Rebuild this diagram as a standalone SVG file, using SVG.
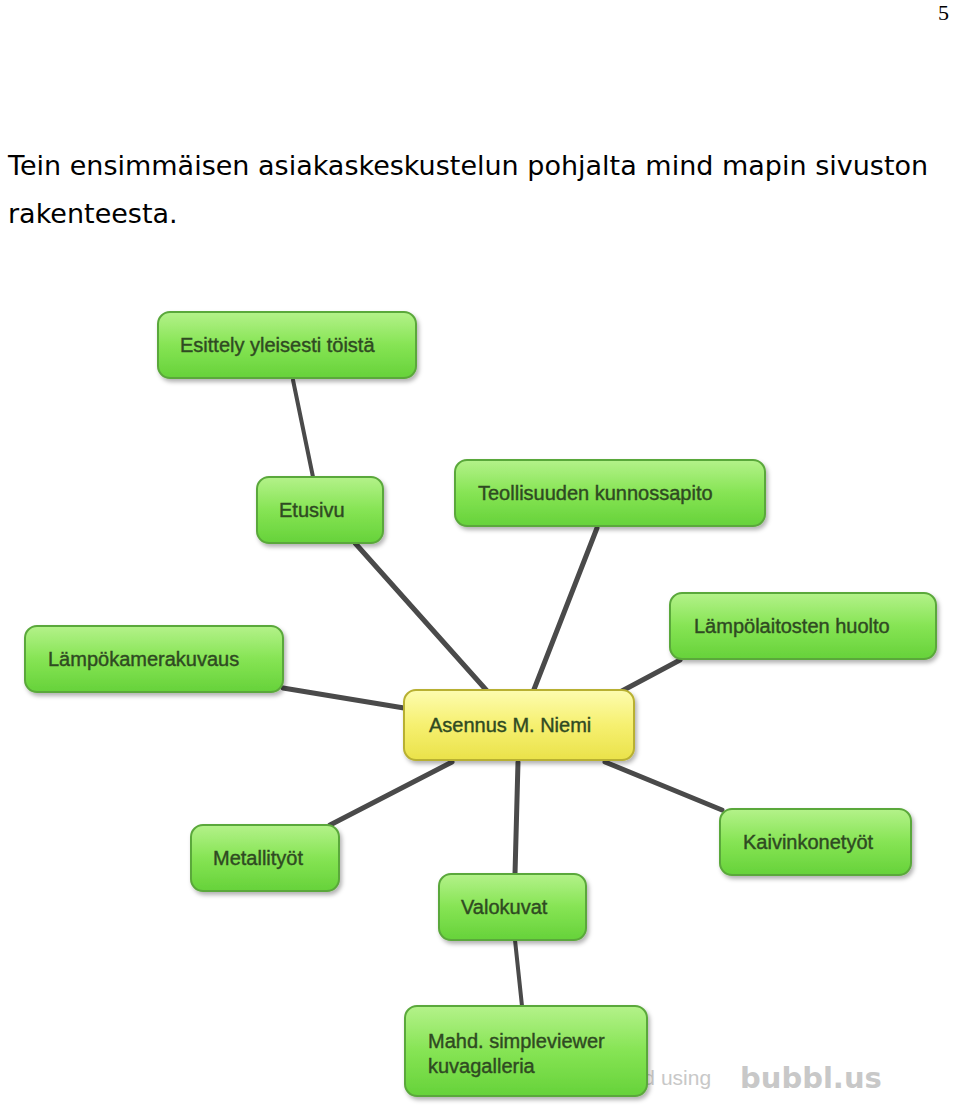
<svg xmlns="http://www.w3.org/2000/svg" width="960" height="1114" viewBox="0 0 960 1114">
<defs>
<linearGradient id="g" x1="0" y1="0" x2="0" y2="1"><stop offset="0" stop-color="#b4f28a"/><stop offset="0.5" stop-color="#86e454"/><stop offset="1" stop-color="#66d23a"/></linearGradient>
<linearGradient id="y" x1="0" y1="0" x2="0" y2="1"><stop offset="0" stop-color="#fdfcb0"/><stop offset="0.5" stop-color="#f6f070"/><stop offset="1" stop-color="#eae24a"/></linearGradient>
<filter id="sh" x="-10%" y="-10%" width="125%" height="130%"><feDropShadow dx="2" dy="3" stdDeviation="2" flood-color="#000" flood-opacity="0.3"/></filter>
</defs>
<style>
.n{fill:url(#g);stroke:#5aa83a;stroke-width:2;filter:url(#sh)}
.c{fill:url(#y);stroke:#b8b030;stroke-width:2;filter:url(#sh)}
.t{font-family:"Liberation Sans",Arial,sans-serif;font-size:20px;fill:#2f4a22;stroke:#2f4a22;stroke-width:0.4}
.h{font-family:"DejaVu Sans",Verdana,sans-serif;font-size:27px;fill:#000}
.e{stroke:#4a4a4a;stroke-linecap:round;fill:none}
</style>
<rect width="960" height="1114" fill="#fff"/>
<text x="938" y="20" font-family="Liberation Serif,serif" font-size="22">5</text>
<text class="h" x="8" y="175">Tein ensimmäisen asiakaskeskustelun pohjalta mind mapin sivuston</text>
<text class="h" x="8" y="223">rakenteesta.</text>
<text x="585" y="1085" font-family="Liberation Sans,sans-serif" font-size="21" fill="#c8c8c8">created using</text>
<text x="740" y="1088" font-family="DejaVu Sans,sans-serif" font-weight="bold" font-size="29" fill="#c8c8c8">bubbl.us</text>
<g id="connectors">
<line class="e" stroke-width="4" x1="293" y1="380" x2="313" y2="477"/>
<line class="e" stroke-width="5" x1="355" y1="543" x2="488" y2="692"/>
<line class="e" stroke-width="5" x1="597" y1="528" x2="533" y2="692"/>
<line class="e" stroke-width="5" x1="680" y1="660" x2="620" y2="692"/>
<line class="e" stroke-width="5" x1="283" y1="688" x2="404" y2="708"/>
<line class="e" stroke-width="5" x1="330" y1="825" x2="452" y2="762"/>
<line class="e" stroke-width="5" x1="722" y1="810" x2="605" y2="762"/>
<line class="e" stroke-width="5" x1="518" y1="762" x2="515" y2="874"/>
<line class="e" stroke-width="4" x1="515" y1="940" x2="522" y2="1006"/>
</g>
<g id="n-esittely"><rect class="n" x="158" y="312" width="258" height="66" rx="12"/><text class="t" x="180" y="352">Esittely yleisesti töistä</text></g>
<g id="n-etusivu"><rect class="n" x="257" y="477" width="126" height="66" rx="12"/><text class="t" x="279" y="517">Etusivu</text></g>
<g id="n-teollisuuden"><rect class="n" x="455" y="460" width="310" height="66" rx="12"/><text class="t" x="478" y="500">Teollisuuden kunnossapito</text></g>
<g id="n-lampolaitosten"><rect class="n" x="670" y="593" width="266" height="66" rx="12"/><text class="t" x="694" y="633">Lämpölaitosten huolto</text></g>
<g id="n-lampokamera"><rect class="n" x="25" y="626" width="258" height="66" rx="12"/><text class="t" x="48" y="666">Lämpökamerakuvaus</text></g>
<g id="n-asennus"><rect class="c" x="404" y="690" width="230" height="70" rx="12"/><text class="t" x="429" y="732">Asennus M. Niemi</text></g>
<g id="n-metallityot"><rect class="n" x="191" y="825" width="148" height="66" rx="12"/><text class="t" x="213" y="865">Metallityöt</text></g>
<g id="n-kaivinkone"><rect class="n" x="720" y="809" width="191" height="66" rx="12"/><text class="t" x="743" y="849">Kaivinkonetyöt</text></g>
<g id="n-valokuvat"><rect class="n" x="439" y="874" width="147" height="66" rx="12"/><text class="t" x="461" y="914">Valokuvat</text></g>
<g id="n-mahd"><rect class="n" x="405" y="1006" width="242" height="90" rx="12"/><text class="t" x="428" y="1048">Mahd. simpleviewer</text><text class="t" x="428" y="1073">kuvagalleria</text></g>
</svg>
